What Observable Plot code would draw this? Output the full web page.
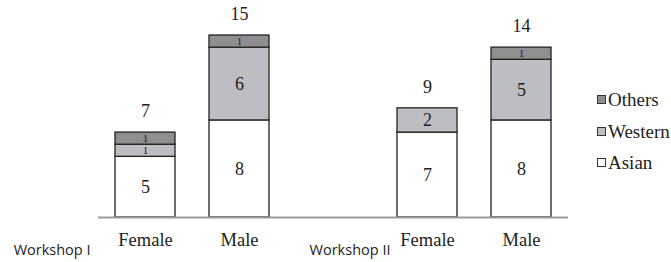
<!DOCTYPE html>
<html>
<head>
<meta charset="utf-8">
<script src="https://cdn.jsdelivr.net/npm/d3@7"></script>
<script src="https://cdn.jsdelivr.net/npm/@observablehq/plot@0.6"></script>
<style>
  html, body { margin: 0; padding: 0; background: #fff; overflow: hidden; }
  #wrap { position: relative; width: 671px; height: 262px; overflow: hidden; }
  #legend { position: absolute; left: 597px; top: 84px; font-family: "Liberation Serif", serif; font-size: 19px; color: #222; }
  .item { height: 31.5px; line-height: 31.5px; display: flex; align-items: center; white-space: nowrap; }
  .sw { width: 7px; height: 7px; border: 1px solid #333; margin-right: 2px; flex: none; }
</style>
</head>
<body>
<div id="wrap"><div id="legend"></div></div>
<script>
const workshops = ["Workshop I", "Workshop II"];
const genders = ["Female", "Male"];
const groups = ["Asian", "Western", "Others"];
// order: Workshop I Female, Workshop I Male, Workshop II Female, Workshop II Male
const asian   = [5, 8, 7, 8];
const western = [1, 6, 2, 5];
const others  = [1, 1, 0, 1];
const colors = {Asian: "#ffffff", Western: "#bdbec1", Others: "#8f8f91"};

const key = (w, g) => w + "|" + g;
const cells = [];
workshops.forEach(w => genders.forEach(g => cells.push({workshop: w, gender: g})));
const seriesVals = {Asian: asian, Western: western, Others: others};
const rows = [];
cells.forEach((c, i) => groups.forEach(s => rows.push({k: key(c.workshop, c.gender), group: s, count: seriesVals[s][i]})));
const totals = cells.map((c, i) => ({k: key(c.workshop, c.gender), total: asian[i] + western[i] + others[i]}));

const xDomain = [key(workshops[0], genders[0]), key(workshops[0], genders[1]), " ", key(workshops[1], genders[0]), key(workshops[1], genders[1])];

const serif = "Liberation Serif";
const sans = "Open Sans";

const chart = Plot.plot({
  width: 671,
  height: 262,
  marginLeft: 98,
  marginRight: 103,
  marginTop: 35,
  marginBottom: 45,
  style: {fontFamily: serif, fontSize: "18.5px", color: "#222", background: "transparent"},
  x: {type: "band", domain: xDomain, paddingInner: 0.362, paddingOuter: 0.181, tickSize: 0, tickPadding: 15,
      tickFormat: d => (d.split("|")[1] ?? ""), label: null},
  y: {domain: [0, 15], axis: null},
  color: {domain: groups, range: groups.map(g => colors[g])},
  marks: [
    Plot.barY(rows.filter(d => d.count > 0), Plot.stackY({x: "k", y: "count", fill: "group", order: groups, stroke: "#222", strokeWidth: 1.3})),
    Plot.text(rows, Plot.stackY({x: "k", y: "count", z: "group", order: groups, text: d => (d.count > 1 ? String(d.count) : null), fill: "#222", fontSize: 18, fontFamily: serif, fontVariant: "normal"})),
    Plot.text(rows, Plot.stackY({x: "k", y: "count", z: "group", order: groups, text: d => (d.count === 1 ? "1" : null), fill: "#222", fontSize: 11, fontFamily: serif, fontVariant: "normal"})),
    Plot.text(totals, {x: "k", y: "total", text: d => String(d.total), dy: -21, fill: "#222", fontSize: 18, fontFamily: serif, fontVariant: "normal"}),
    Plot.ruleY([0], {stroke: "#9a9a9a", strokeWidth: 2}),
    Plot.text([workshops[0]], {x: () => key(workshops[0], genders[0]), text: d => d, frameAnchor: "bottom", textAnchor: "end", dx: -55, dy: 37, fontFamily: sans, fontSize: 14.5, fill: "#222"}),
    Plot.text([workshops[1]], {x: () => key(workshops[1], genders[0]), text: d => d, frameAnchor: "bottom", textAnchor: "end", dx: -37, dy: 37, fontFamily: sans, fontSize: 14.5, fill: "#222"})
  ]
});
document.getElementById("wrap").prepend(chart);

const legend = document.getElementById("legend");
groups.slice().reverse().forEach(g => {
  const it = document.createElement("div");
  it.className = "item";
  const sw = document.createElement("span");
  sw.className = "sw";
  sw.style.background = colors[g];
  const t = document.createElement("span");
  t.textContent = g;
  it.append(sw, t);
  legend.append(it);
});
</script>
</body>
</html>
